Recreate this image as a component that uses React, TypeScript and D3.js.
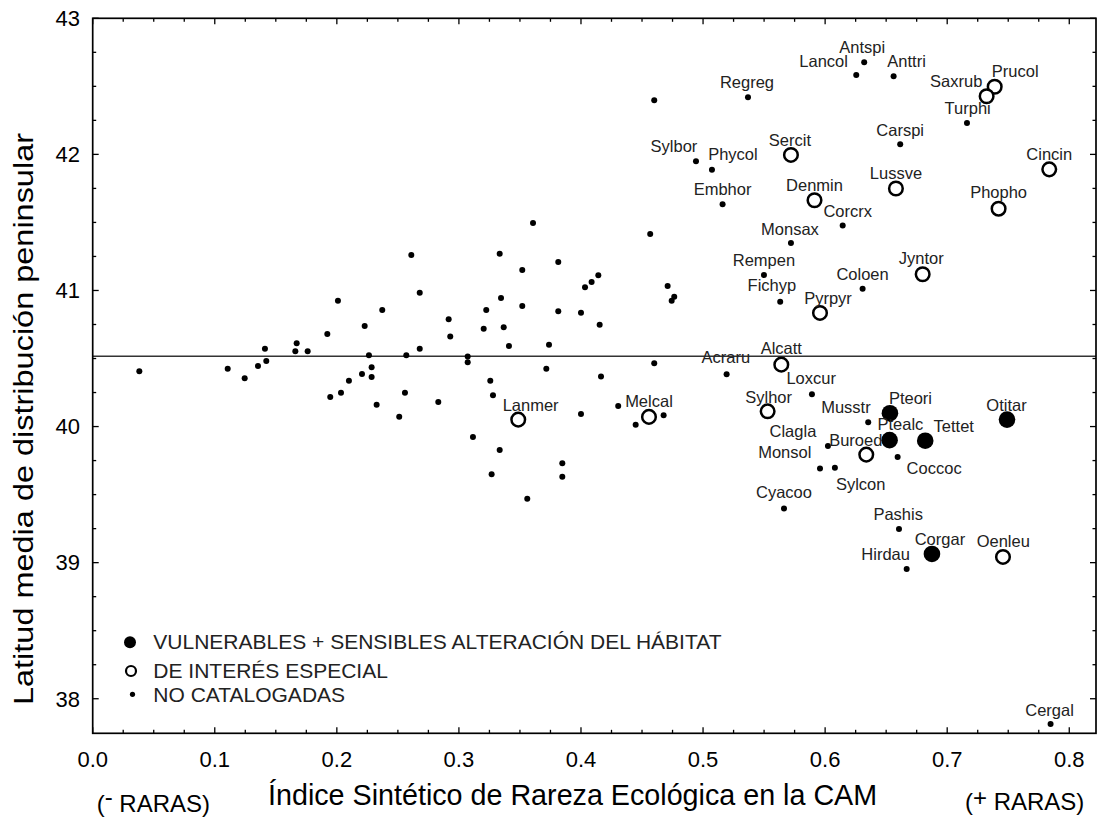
import React from 'react';
import * as d3 from 'd3';

// ---------- DATA ----------
const vulnerables = [
  { name: 'Pteori', x: 0.6531, y: 40.098 },
  { name: 'Ptealc', x: 0.6528, y: 39.9 },
  { name: 'Tettet', x: 0.682, y: 39.896 },
  { name: 'Otitar', x: 0.749, y: 40.051 },
  { name: 'Corgar', x: 0.6875, y: 39.064 },
];

const interesEspecial = [
  { name: 'Prucol', x: 0.7389, y: 42.497 },
  { name: 'Saxrub', x: 0.7323, y: 42.427 },
  { name: 'Sercit', x: 0.572, y: 41.996 },
  { name: 'Cincin', x: 0.7836, y: 41.89 },
  { name: 'Lussve', x: 0.658, y: 41.749 },
  { name: 'Denmin', x: 0.5913, y: 41.663 },
  { name: 'Phopho', x: 0.7421, y: 41.601 },
  { name: 'Jyntor', x: 0.6799, y: 41.119 },
  { name: 'Pyrpyr', x: 0.5958, y: 40.835 },
  { name: 'Alcatt', x: 0.5641, y: 40.455 },
  { name: 'Sylhor', x: 0.5529, y: 40.112 },
  { name: 'Lanmer', x: 0.3486, y: 40.051 },
  { name: 'Melcal', x: 0.4557, y: 40.071 },
  { name: 'Buroed', x: 0.6337, y: 39.794 },
  { name: 'Oenleu', x: 0.7457, y: 39.042 },
];

const noCatalogadasEtiquetadas = [
  { name: 'Antspi', x: 0.632, y: 42.677 },
  { name: 'Lancol', x: 0.6255, y: 42.583 },
  { name: 'Anttri', x: 0.6561, y: 42.575 },
  { name: 'Regreg', x: 0.5368, y: 42.42 },
  { name: 'Turphi', x: 0.7162, y: 42.231 },
  { name: 'Carspi', x: 0.6615, y: 42.075 },
  { name: 'Sylbor', x: 0.4942, y: 41.949 },
  { name: 'Phycol', x: 0.5073, y: 41.888 },
  { name: 'Embhor', x: 0.516, y: 41.633 },
  { name: 'Corcrx', x: 0.6144, y: 41.478 },
  { name: 'Monsax', x: 0.572, y: 41.348 },
  { name: 'Rempen', x: 0.5499, y: 41.114 },
  { name: 'Coloen', x: 0.6307, y: 41.013 },
  { name: 'Fichyp', x: 0.5632, y: 40.918 },
  { name: 'Acraru', x: 0.5193, y: 40.384 },
  { name: 'Loxcur', x: 0.5892, y: 40.237 },
  { name: 'Musstr', x: 0.6353, y: 40.032 },
  { name: 'Clagla', x: 0.6023, y: 39.857 },
  { name: 'Coccoc', x: 0.6594, y: 39.777 },
  { name: 'Monsol', x: 0.5958, y: 39.691 },
  { name: 'Sylcon', x: 0.608, y: 39.698 },
  { name: 'Cyacoo', x: 0.5663, y: 39.397 },
  { name: 'Pashis', x: 0.6605, y: 39.248 },
  { name: 'Hirdau', x: 0.6668, y: 38.954 },
  { name: 'Cergal', x: 0.7847, y: 37.815 },
];

// unlabelled "no catalogadas" species: [indice, latitud]
const noCatalogadas: [number, number][] = [
  [0.0382, 40.406], [0.1106, 40.425], [0.1245, 40.355], [0.1354, 40.445],
  [0.1411, 40.572], [0.1422, 40.482], [0.166, 40.553], [0.1671, 40.612],
  [0.1761, 40.553], [0.1922, 40.68], [0.1946, 40.217], [0.2009, 40.925],
  [0.2034, 40.249], [0.2099, 40.337], [0.2206, 40.387], [0.2228, 40.739],
  [0.2263, 40.524], [0.2285, 40.436], [0.2285, 40.364], [0.2326, 40.161],
  [0.2372, 40.857], [0.2511, 40.073], [0.2558, 40.249], [0.2569, 40.524],
  [0.261, 41.261], [0.2679, 40.984], [0.2679, 40.572], [0.2831, 40.181],
  [0.2916, 40.788], [0.2929, 40.661], [0.3072, 40.514], [0.3072, 40.472],
  [0.3115, 39.924], [0.3203, 40.719], [0.3224, 40.857], [0.3257, 40.337],
  [0.3279, 40.23], [0.3334, 41.27], [0.3334, 39.828], [0.3345, 40.945],
  [0.3367, 40.73], [0.341, 40.592], [0.3268, 39.65], [0.3519, 41.151],
  [0.3519, 40.886], [0.3607, 41.496], [0.3716, 40.425], [0.3738, 40.602],
  [0.3814, 41.209], [0.3814, 40.847], [0.3847, 39.73], [0.3847, 39.632],
  [0.4, 40.837], [0.4, 40.093], [0.4033, 41.024], [0.4087, 41.062],
  [0.4142, 41.112], [0.4153, 40.749], [0.4164, 40.367], [0.4305, 40.151],
  [0.4448, 40.014], [0.4567, 41.415], [0.46, 40.465], [0.4677, 40.083],
  [0.471, 41.033], [0.4743, 40.925], [0.4764, 40.954], [0.46, 42.398],
  [0.356, 39.47],
];

const meanLatitude = 40.517;

const xTickValues = [0, 0.1, 0.2, 0.3, 0.4, 0.5, 0.6, 0.7, 0.8];
const xTickLabels = ['0.0', '0.1', '0.2', '0.3', '0.4', '0.5', '0.6', '0.7', '0.8'];
const yTickValues = [38, 39, 40, 41, 42, 43];
const yTickLabels = ['38', '39', '40', '41', '42', '43'];

const legendLabels = [
  'VULNERABLES + SENSIBLES ALTERACIÓN DEL HÁBITAT',
  'DE INTERÉS ESPECIAL',
  'NO CATALOGADAS',
];

// label placement relative to the point (dx to label centre, dy to baseline), pixels
const labelOffsets: Record<string, [number, number]> = {
  Regreg: [-1, -9], Sylbor: [-22, -9.6], Phycol: [21, -9.7], Sercit: [-1, -9],
  Carspi: [0, -8], Embhor: [0, -9.3], Lussve: [0, -10], Denmin: [0, -9.3],
  Corcrx: [5, -8.8], Monsax: [-1, -8.2], Antspi: [-2, -9.6], Lancol: [-32.6, -8.3],
  Anttri: [13, -9.6], Saxrub: [-30.4, -9], Prucol: [20.5, -10], Turphi: [0.7, -9],
  Cincin: [0, -9.3], Phopho: [0, -10.4], Rempen: [0, -9.3], Fichyp: [-8.3, -10.7],
  Pyrpyr: [8, -9], Coloen: [0, -8.7], Jyntor: [-1.4, -10], Alcatt: [0, -10.4],
  Acraru: [-0.7, -11], Loxcur: [-0.8, -10], Sylhor: [1, -8.6], Pteori: [20.5, -9.3],
  Musstr: [-22.3, -9.6], Ptealc: [10.8, -10], Tettet: [28.5, -8.4], Otitar: [-0.5, -9],
  Clagla: [-35, -8.7], Buroed: [-10.5, -9], Monsol: [-35.2, -10.4], Sylcon: [25.8, 22.3],
  Coccoc: [36.5, 17.3], Cyacoo: [0, -10.4], Pashis: [-0.8, -9], Corgar: [8, -9],
  Oenleu: [0.3, -10.3], Hirdau: [-21, -9], Cergal: [-1, -8], Lanmer: [12.4, -9],
  Melcal: [0, -10.3],
};

// ---------- CHART ----------
const W = 1098;
const H = 821;
const FONT = '"Liberation Sans", Arial, Helvetica, sans-serif';

export default function App() {
  const left = 92.7, right = 1096, top = 18.3, bottom = 733.3;
  const x = d3.scaleLinear().domain([0, 0.8219]).range([left, right]);
  const y = d3.scaleLinear().domain([37.746, 43]).range([bottom, top]);

  const xMinor = d3.range(0.025, 0.8219, 0.025).filter(
    (v) => Math.abs(v * 10 - Math.round(v * 10)) > 1e-6
  );
  const yMinor = d3.range(38, 43.001, 0.25).filter(
    (v) => Math.abs(v - Math.round(v)) > 1e-6
  );
  const majorLen = 6;
  const minorLen = 3.5;

  const allLabelled = [...vulnerables, ...interesEspecial, ...noCatalogadasEtiquetadas];

  return (
    <svg
      width={W}
      height={H}
      style={{ position: 'absolute', left: 0, top: 0, background: '#fff' }}
      fontFamily={FONT}
    >
      <rect x={0} y={0} width={W} height={H} fill="#fff" />

      {/* mean latitude line */}
      <line
        x1={left}
        x2={right}
        y1={y(meanLatitude)}
        y2={y(meanLatitude)}
        stroke="#333"
        strokeWidth={1.6}
      />

      {/* ticks */}
      <g stroke="#000" strokeWidth={1.3}>
        {xTickValues.map((v) => (
          <g key={'xt' + v}>
            <line x1={x(v)} x2={x(v)} y1={bottom} y2={bottom - majorLen} />
            <line x1={x(v)} x2={x(v)} y1={top} y2={top + majorLen} />
          </g>
        ))}
        {xMinor.map((v) => (
          <g key={'xm' + v}>
            <line x1={x(v)} x2={x(v)} y1={bottom} y2={bottom - minorLen} />
            <line x1={x(v)} x2={x(v)} y1={top} y2={top + minorLen} />
          </g>
        ))}
        {yTickValues.map((v) => (
          <g key={'yt' + v}>
            <line x1={left} x2={left + majorLen} y1={y(v)} y2={y(v)} />
            <line x1={right} x2={right - majorLen} y1={y(v)} y2={y(v)} />
          </g>
        ))}
        {yMinor.map((v) => (
          <g key={'ym' + v}>
            <line x1={left} x2={left + minorLen} y1={y(v)} y2={y(v)} />
            <line x1={right} x2={right - minorLen} y1={y(v)} y2={y(v)} />
          </g>
        ))}
      </g>

      {/* frame */}
      <rect
        x={left}
        y={top}
        width={right - left}
        height={bottom - top}
        fill="none"
        stroke="#000"
        strokeWidth={1.7}
      />

      {/* tick labels */}
      {xTickValues.map((v, i) => (
        <text key={'xl' + v} x={x(v)} y={767.3} textAnchor="middle" fontSize={22} fill="#000">
          {xTickLabels[i]}
        </text>
      ))}
      {yTickValues.map((v, i) => (
        <text key={'yl' + v} x={80} y={y(v) + 7.8} textAnchor="end" fontSize={22} fill="#000">
          {yTickLabels[i]}
        </text>
      ))}

      {/* points: no catalogadas */}
      {noCatalogadas.map(([a, b], i) => (
        <circle key={'nc' + i} cx={x(a)} cy={y(b)} r={3} fill="#000" />
      ))}
      {noCatalogadasEtiquetadas.map((d) => (
        <circle key={'ncl' + d.name} cx={x(d.x)} cy={y(d.y)} r={3} fill="#000" />
      ))}
      {/* interes especial */}
      {interesEspecial.map((d) => (
        <circle
          key={'ie' + d.name}
          cx={x(d.x)}
          cy={y(d.y)}
          r={6.8}
          fill="#fff"
          stroke="#000"
          strokeWidth={2.5}
        />
      ))}
      {/* vulnerables */}
      {vulnerables.map((d) => (
        <circle key={'vu' + d.name} cx={x(d.x)} cy={y(d.y)} r={8.3} fill="#000" />
      ))}

      {/* labels */}
      {allLabelled.map((d) => {
        const off = labelOffsets[d.name] || [0, -9];
        return (
          <text
            key={'lb' + d.name}
            x={x(d.x) + off[0]}
            y={y(d.y) + off[1]}
            textAnchor="middle"
            fontSize={16.5}
            fill="#222"
          >
            {d.name}
          </text>
        );
      })}

      {/* legend */}
      <circle cx={130} cy={642.3} r={6} fill="#000" />
      <circle cx={131} cy={671} r={5} fill="#fff" stroke="#000" strokeWidth={2.2} />
      <circle cx={132.5} cy={694.3} r={2.6} fill="#000" />
      {legendLabels.map((t, i) => (
        <text
          key={'lg' + i}
          x={153.3}
          y={[649.3, 678.3, 701.7][i]}
          fontSize={21}
          fill="#222"
        >
          {t}
        </text>
      ))}

      {/* axis titles */}
      <text x={268} y={805} fontSize={28.7} fill="#000">
        Índice Sintético de Rareza Ecológica en la CAM
      </text>
      <text
        transform="translate(33, 419) rotate(-90)"
        textAnchor="middle"
        fontSize={27}
        fill="#000"
        textLength={572}
        lengthAdjust="spacingAndGlyphs"
      >
        Latitud media de distribución peninsular
      </text>
      <text x={96.7} y={811.7} fontSize={24} fill="#000">
        (<tspan dy={-7}>-</tspan>
        <tspan dy={7}> RARAS)</tspan>
      </text>
      <text x={965} y={810} fontSize={24} fill="#000">
        (<tspan dy={-4}>+</tspan>
        <tspan dy={4}> RARAS)</tspan>
      </text>
    </svg>
  );
}
